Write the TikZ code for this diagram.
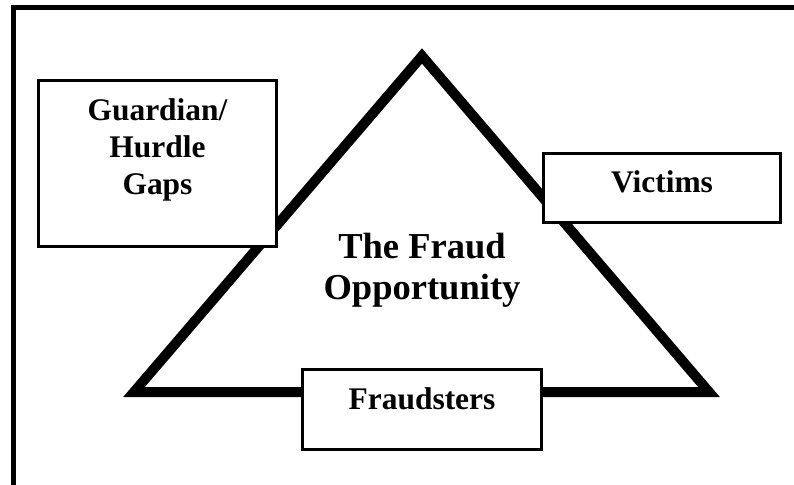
\documentclass[tikz,border=0pt]{standalone}
\usepackage{fontspec}
\setmainfont{Liberation Serif}
\begin{document}
\begin{tikzpicture}[x=0.75pt,y=-0.75pt,
    box/.style={draw,line width=1.8pt,fill=white,inner sep=0pt},
    boxtext/.style={font=\bfseries\fontsize{23.6}{28.1}\selectfont,align=center,inner sep=0pt,anchor=base},
    bigtext/.style={font=\bfseries\fontsize{27.4}{31.5}\selectfont,align=center,inner sep=0pt,anchor=base}]
  \useasboundingbox (0,0) rectangle (794,485);
  % frame
  \draw[line width=3.75pt] (794,7.5) -- (13.5,7.5) -- (13.5,485);
  % triangle
  \coordinate (apex) at (422,56);
  \coordinate (left) at (134,392);
  \coordinate (right) at (709,392);
  \draw[line width=7.5pt] (apex) -- (left) -- (right) -- cycle;
  % boxes
  \node[box,minimum width=178.5pt,minimum height=124.5pt] (guard) at (157.5,163.5) {};
  \node[box,minimum width=177.75pt,minimum height=51.75pt] (vict) at (662,188) {};
  \node[box,minimum width=179.25pt,minimum height=60pt] (fraud) at (422,409.5) {};
  \node[boxtext] (guardtext) at (157.5,195) {Guardian/\\Hurdle\\Gaps};
  \node[boxtext] (victtext) at (662,193) {Victims};
  \node[boxtext] (fraudtext) at (422,409) {Fraudsters};
  \node[bigtext] (opp) at (422,300) {The Fraud\\Opportunity};
\end{tikzpicture}
\end{document}
